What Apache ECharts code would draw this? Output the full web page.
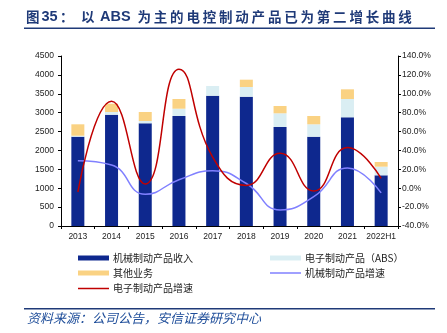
<!DOCTYPE html>
<html><head><meta charset="utf-8">
<script src="https://cdn.jsdelivr.net/npm/echarts@6/dist/echarts.min.js"></script>
<style>html,body{margin:0;padding:0;background:#fff}#c{width:447px;height:333px}</style>
</head><body><div id="c"></div>
<script>
var categories = ['2013','2014','2015','2016','2017','2018','2019','2020','2021','2022H1'];
var mechRevenue = [2365, 2946, 2718, 2912, 3449, 3423, 2621, 2364, 2877, 1342];
var absRevenue = [25, 72, 61, 193, 257, 256, 362, 328, 485, 228];
var otherRevenue = [302, 219, 239, 257, 0, 194, 193, 220, 256, 124];
var mechGrowth = [29, 24.5, -6.5, 9, 18.5, 5, -23, -9, 21.5, -5];
var elecGrowth = [-4, 92, 4.5, 126, 33, 3, 37, -3, 43, 10.5];
var leftTicks = {min: 0, max: 4500, interval: 500};
var rightTicks = {min: -40, max: 140, interval: 20};

var CJK = '"Noto Sans CJK SC", sans-serif';
var NUM = '"Liberation Sans", Arial, sans-serif';
var TITLE_COLOR = '#1F3A78';
var chart = echarts.init(document.getElementById('c'), null, {renderer: 'canvas'});

// title built from pieces so that its wide character spacing matches
var titleGraphics = [];
function tpiece(txt, x, ascii) {
  titleGraphics.push({type: 'text', x: x, y: 17, style: {text: txt, fontFamily: ascii ? NUM : CJK, fontWeight: 'bold',
    fontSize: ascii ? 14.5 : 13.5, fill: TITLE_COLOR, verticalAlign: 'middle', align: 'left'}});
}
tpiece('图', 26, false);
tpiece('35', 41.5, true);
tpiece('：', 60, false);
tpiece('以', 81, false);
tpiece('ABS', 100, true);
var rest = '为主的电控制动产品已为第二增长曲线';
for (var i = 0; i < rest.length; i++) tpiece(rest[i], 137.5 + i * 16.3, false);

function lg(name, left, top, isLine) {
  return {
    data: [{name: name, icon: 'rect'}], left: left, top: top, padding: 0,
    itemWidth: 31, itemHeight: isLine ? 1.5 : 5, itemGap: 0,
    selectedMode: false,
    textStyle: {fontFamily: CJK, fontSize: 10, color: '#222', padding: [0,0,0,-1]}
  };
}

chart.setOption({
  animation: false,
  backgroundColor: '#fff',
  grid: {left: 61, right: 49, top: 56, bottom: 107, containLabel: false},
  graphic: titleGraphics.concat([
    {type: 'rect', shape: {x: 24, y: 27.5, width: 411, height: 1.6}, style: {fill: TITLE_COLOR}},
    {type: 'rect', shape: {x: 24, y: 308, width: 411, height: 1.6}, style: {fill: TITLE_COLOR}},
    {type: 'text', left: 27, top: 311.5, style: {text: '资料来源：公司公告，安信证券研究中心', fontFamily: CJK, fontStyle: 'italic', fontSize: 13, fill: '#1F4E9A'}}
  ]),
  legend: [
    lg('机械制动产品收入', 78, 253, false),
    lg('其他业务', 78, 268, false),
    lg('电子制动产品增速', 78, 283.5, true),
    lg('电子制动产品（ABS）', 270, 253, false),
    lg('机械制动产品增速', 270, 268, true)
  ],
  xAxis: {
    type: 'category', data: categories,
    axisLine: {lineStyle: {color: '#000', width: 1}},
    axisTick: {show: true, length: 3, inside: false, lineStyle: {color: '#000'}},
    axisLabel: {fontFamily: NUM, fontSize: 8.5, color: '#222', margin: 6, interval: 0}
  },
  yAxis: [
    {type: 'value', min: leftTicks.min, max: leftTicks.max, interval: leftTicks.interval,
     splitLine: {show: false},
     axisLine: {show: true, lineStyle: {color: '#000'}},
     axisTick: {show: true, length: 3, lineStyle: {color: '#000'}},
     axisLabel: {fontFamily: NUM, fontSize: 8.5, color: '#222', margin: 7,
       formatter: function (v) { return String(v); }}},
    {type: 'value', min: rightTicks.min, max: rightTicks.max, interval: rightTicks.interval,
     splitLine: {show: false},
     axisLine: {show: true, lineStyle: {color: '#000'}},
     axisTick: {show: true, length: 3, lineStyle: {color: '#000'}},
     axisLabel: {fontFamily: NUM, fontSize: 8.5, color: '#222', margin: 4,
       formatter: function (v) { return v.toFixed(1) + '%'; }}}
  ],
  series: [
    {name: '机械制动产品收入', type: 'bar', stack: 'r', data: mechRevenue, barWidth: 13,
     itemStyle: {color: '#0E288E'}},
    {name: '电子制动产品（ABS）', type: 'bar', stack: 'r', data: absRevenue, barWidth: 13,
     itemStyle: {color: '#DAEEF3'}},
    {name: '其他业务', type: 'bar', stack: 'r', data: otherRevenue, barWidth: 13,
     itemStyle: {color: '#FAD283'}},
    {name: '机械制动产品增速', type: 'line', yAxisIndex: 1, data: mechGrowth, smooth: 0.5,
     symbol: 'none', lineStyle: {color: '#8080FF', width: 1.5}, itemStyle: {color: '#8080FF'}},
    {name: '电子制动产品增速', type: 'line', yAxisIndex: 1, data: elecGrowth, smooth: 0.5,
     symbol: 'none', lineStyle: {color: '#C00000', width: 1.5}, itemStyle: {color: '#C00000'}}
  ]
});
</script></body></html>
